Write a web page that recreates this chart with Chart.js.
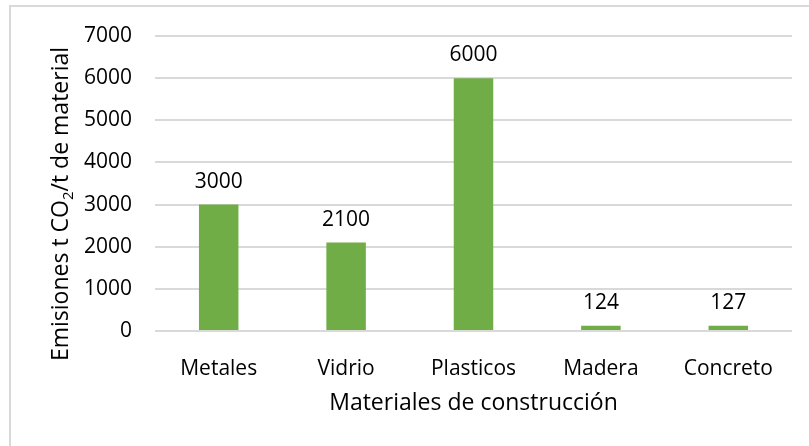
<!DOCTYPE html>
<html>
<head>
<meta charset="utf-8">
<script src="https://cdn.jsdelivr.net/npm/chart.js@4.4.1/dist/chart.umd.min.js"></script>
<style>
  html, body { margin: 0; padding: 0; background: #fff; }
  #wrap { width: 809px; height: 446px; }
</style>
</head>
<body>
<div id="wrap"><canvas id="chart" width="809" height="446"></canvas></div>
<script>
const materiales = ['Metales', 'Vidrio', 'Plasticos', 'Madera', 'Concreto'];
const emisiones = [3000, 2100, 6000, 124, 127];
const yTicks = [0, 1000, 2000, 3000, 4000, 5000, 6000, 7000];

const FONT = "'Open Sans', 'Noto Sans', sans-serif";

// frame, titles and value labels
const extras = {
    id: 'extras',
    beforeDraw(chart) {
        const ctx = chart.ctx;
        ctx.save();
        ctx.fillStyle = '#fff';
        ctx.fillRect(0, 0, chart.width, chart.height);
        ctx.strokeStyle = '#d9d9d9';
        ctx.lineWidth = 2;
        ctx.strokeRect(10, 6, chart.width, chart.height);
        ctx.restore();
    },
    afterDatasetsDraw(chart) {
        const ctx = chart.ctx;
        const meta = chart.getDatasetMeta(0);
        ctx.save();
        ctx.fillStyle = '#000';
        ctx.font = '21px ' + FONT;
        ctx.textAlign = 'center';
        ctx.textBaseline = 'alphabetic';
        meta.data.forEach((bar, i) => {
            ctx.fillText(String(emisiones[i]), bar.x, bar.y - 17);
        });

        // x title
        const area = chart.chartArea;
        ctx.font = '23px ' + FONT;
        ctx.fillText('Materiales de construcción', (area.left + area.right) / 2, 410);

        // y title with subscript
        ctx.translate(68, 204);
        ctx.rotate(-Math.PI / 2);
        const a = 'Emisiones t CO', b = '2', c = '/t de material';
        ctx.font = '23px ' + FONT;
        const wa = ctx.measureText(a).width, wc = ctx.measureText(c).width;
        ctx.font = '15px ' + FONT;
        const wb = ctx.measureText(b).width;
        let x = -(wa + wb + wc) / 2;
        ctx.textAlign = 'left';
        ctx.font = '23px ' + FONT;
        ctx.fillText(a, x, 0);
        x += wa;
        ctx.font = '15px ' + FONT;
        ctx.fillText(b, x, 5);
        x += wb;
        ctx.font = '23px ' + FONT;
        ctx.fillText(c, x, 0);
        ctx.restore();
    }
};

new Chart(document.getElementById('chart'), {
    type: 'bar',
    data: {
        labels: materiales,
        datasets: [{
            data: emisiones,
            backgroundColor: '#70AD47',
            barPercentage: 0.31,
            categoryPercentage: 1
        }]
    },
    options: {
        responsive: false,
        animation: false,
        layout: { padding: { top: 36, right: 17, bottom: 0, left: 0 } },
        plugins: { legend: { display: false }, tooltip: { enabled: false } },
        scales: {
            x: {
                grid: { display: false },
                border: { display: false },
                ticks: { color: '#000', font: { family: FONT, size: 21 }, padding: 17 },
                afterFit(s) { s.height = 115; }
            },
            y: {
                min: 0,
                max: 7000,
                afterBuildTicks(s) { s.ticks = yTicks.map(v => ({ value: v })); },
                grid: { color: '#d9d9d9', lineWidth: 2, drawTicks: false },
                border: { display: false },
                ticks: { color: '#000', font: { family: FONT, size: 21 }, padding: 23, callback: v => String(v) },
                afterFit(s) { s.width = 155; }
            }
        }
    },
    plugins: [extras]
});
</script>
</body>
</html>
